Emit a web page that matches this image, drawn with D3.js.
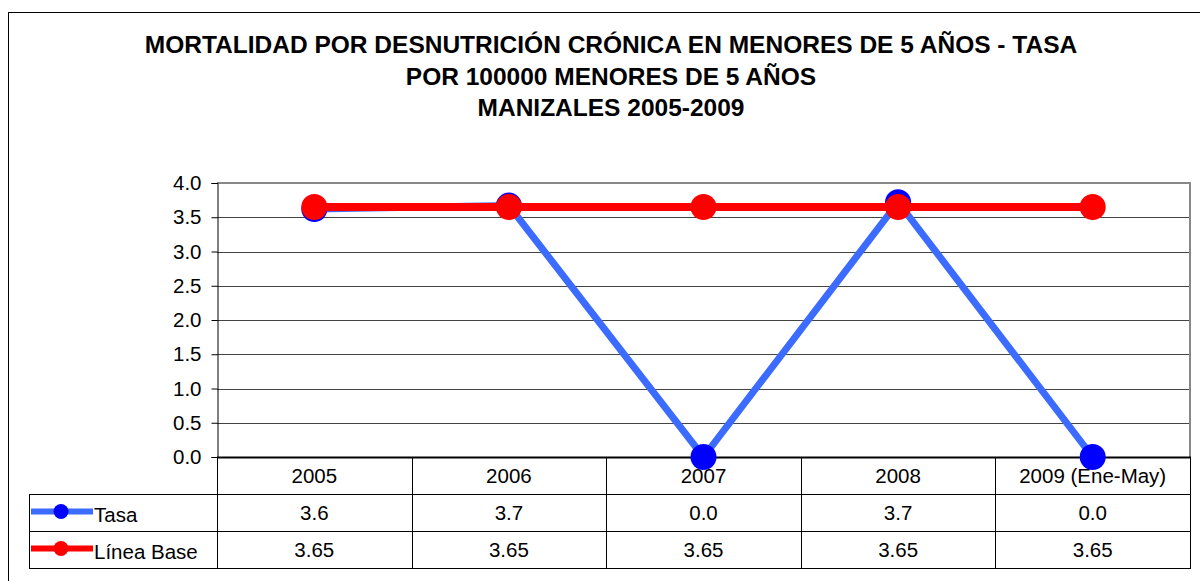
<!DOCTYPE html>
<html>
<head>
<meta charset="utf-8">
<title>Mortalidad desnutrición</title>
<script src="https://cdn.jsdelivr.net/npm/d3@7"></script>
<style>
  body { margin: 0; background: #fff; }
  text { font-family: "Liberation Sans", Arial, sans-serif; }
</style>
</head>
<body>
<script>
var categories = ["2005", "2006", "2007", "2008", "2009 (Ene-May)"];
var tasa = [3.62, 3.67, 0.0, 3.72, 0.0];
var lineaBase = [3.65, 3.65, 3.65, 3.65, 3.65];
var yTicks = [0, 0.5, 1, 1.5, 2, 2.5, 3, 3.5, 4];
var titleLines = ["MORTALIDAD POR DESNUTRICIÓN CRÓNICA EN MENORES DE 5 AÑOS - TASA",
                  "POR 100000 MENORES DE 5 AÑOS",
                  "MANIZALES 2005-2009"];

var w = 1200, h = 581;
var pLeft = 217, pRight = 1190, pTop = 183, pBottom = 457;
var rowH = 37, tableLeft = 29;
var fs = 20.5;

var svg = d3.select("body").append("svg")
    .attr("width", w)
    .attr("height", h);

// outer frame
svg.append("rect")
    .attr("x", 8.5).attr("y", 12.5)
    .attr("width", 1300).attr("height", 700)
    .attr("fill", "none").attr("stroke", "#000").attr("stroke-width", 1);

svg.selectAll("text.title")
    .data(titleLines)
    .enter().append("text")
    .attr("class", "title")
    .attr("x", 611)
    .attr("y", function(d, i) { return 53 + i * 31.5; })
    .attr("text-anchor", "middle")
    .attr("font-size", 24.5)
    .attr("font-weight", "bold")
    .text(function(d) { return d; });

var x = d3.scaleBand().domain(categories).range([pLeft, pRight]);
var y = d3.scaleLinear().domain([0, 4]).range([pBottom, pTop]);

// grid
svg.append("g")
    .selectAll("line")
    .data(yTicks.slice(1, -1))
    .enter().append("line")
    .attr("x1", pLeft).attr("x2", pRight)
    .attr("y1", function(d) { return Math.round(y(d)) + 0.5; })
    .attr("y2", function(d) { return Math.round(y(d)) + 0.5; })
    .attr("stroke", "#444").attr("stroke-width", 1);

// plot area border (top and right gray)
svg.append("line")
    .attr("x1", pLeft).attr("x2", pRight + 1)
    .attr("y1", pTop).attr("y2", pTop)
    .attr("stroke", "#888").attr("stroke-width", 2);
svg.append("line")
    .attr("x1", pRight).attr("x2", pRight)
    .attr("y1", pTop).attr("y2", pBottom)
    .attr("stroke", "#888").attr("stroke-width", 2);

// y axis
var yAxis = d3.axisLeft(y)
    .tickValues(yTicks)
    .tickFormat(d3.format(".1f"))
    .tickSize(6)
    .tickPadding(10);
var gy = svg.append("g")
    .attr("transform", "translate(" + (pLeft + 0.5) + ",0)")
    .call(yAxis);
gy.select(".domain").attr("stroke", "#000");
gy.selectAll(".tick line").attr("stroke", "#000");
gy.selectAll("text")
    .attr("font-size", fs)
    .attr("fill", "#000")
    .style("font-family", "'Liberation Sans', Arial, sans-serif");

// data table
var rows = [
    { name: "Tasa", values: tasa, fmt: d3.format(".1f"), line: "#3c6cff", dot: "#0000ff" },
    { name: "Línea Base", values: lineaBase, fmt: d3.format(".2f"), line: "#ff0000", dot: "#ff0000" }
];
var tbl = svg.append("g");
var tableBottom = pBottom + rowH * 3;

tbl.append("line").attr("x1", pLeft).attr("x2", pRight + 1)
    .attr("y1", pBottom + 0.5).attr("y2", pBottom + 0.5)
    .attr("stroke", "#000").attr("stroke-width", 2);
[1, 2, 3].forEach(function(r) {
    tbl.append("line").attr("x1", tableLeft).attr("x2", pRight + 1)
        .attr("y1", pBottom + r * rowH + 0.5).attr("y2", pBottom + r * rowH + 0.5)
        .attr("stroke", "#000").attr("stroke-width", 1);
});
tbl.append("line").attr("x1", tableLeft + 0.5).attr("x2", tableLeft + 0.5)
    .attr("y1", pBottom + rowH).attr("y2", tableBottom + 1)
    .attr("stroke", "#000");
tbl.selectAll("line.col")
    .data(categories)
    .enter().append("line")
    .attr("class", "col")
    .attr("x1", function(d) { return Math.round(x(d)) + 0.5; })
    .attr("x2", function(d) { return Math.round(x(d)) + 0.5; })
    .attr("y1", pBottom).attr("y2", tableBottom + 1)
    .attr("stroke", "#000");
tbl.append("line").attr("x1", pRight + 0.5).attr("x2", pRight + 0.5)
    .attr("y1", pBottom).attr("y2", tableBottom + 1)
    .attr("stroke", "#000");

tbl.selectAll("text.cat")
    .data(categories)
    .enter().append("text")
    .attr("class", "cat")
    .attr("x", function(d) { return x(d) + x.bandwidth() / 2; })
    .attr("y", pBottom + rowH / 2 + 7)
    .attr("text-anchor", "middle")
    .attr("font-size", fs)
    .text(function(d) { return d; });

rows.forEach(function(row, r) {
    var ry = pBottom + rowH * (r + 1) + rowH / 2;
    tbl.selectAll("text.v" + r)
        .data(row.values)
        .enter().append("text")
        .attr("x", function(d, i) { return x(categories[i]) + x.bandwidth() / 2; })
        .attr("y", ry + 7)
        .attr("text-anchor", "middle")
        .attr("font-size", fs)
        .text(function(d) { return row.fmt(d); });
    tbl.append("line")
        .attr("x1", 31).attr("x2", 93)
        .attr("y1", ry - 1).attr("y2", ry - 1)
        .attr("stroke", row.line).attr("stroke-width", 6);
    tbl.append("circle")
        .attr("cx", 61).attr("cy", ry - 1).attr("r", 7.5)
        .attr("fill", row.dot);
    tbl.append("text")
        .attr("x", 94).attr("y", ry + 9)
        .attr("font-size", fs)
        .text(row.name);
});

// series
var cx = function(d, i) { return x(categories[i]) + x.bandwidth() / 2; };
var line = d3.line()
    .x(function(d, i) { return cx(d, i); })
    .y(function(d) { return y(d); });

rows.forEach(function(row, r) {
    var g = svg.append("g");
    g.append("path")
        .datum(row.values)
        .attr("d", line)
        .attr("fill", "none")
        .attr("stroke", row.line)
        .attr("stroke-width", r === 0 ? 7 : 8);
    g.selectAll("circle")
        .data(row.values)
        .enter().append("circle")
        .attr("cx", cx)
        .attr("cy", function(d) { return y(d); })
        .attr("r", 13)
        .attr("fill", row.dot);
});
</script>
</body>
</html>
